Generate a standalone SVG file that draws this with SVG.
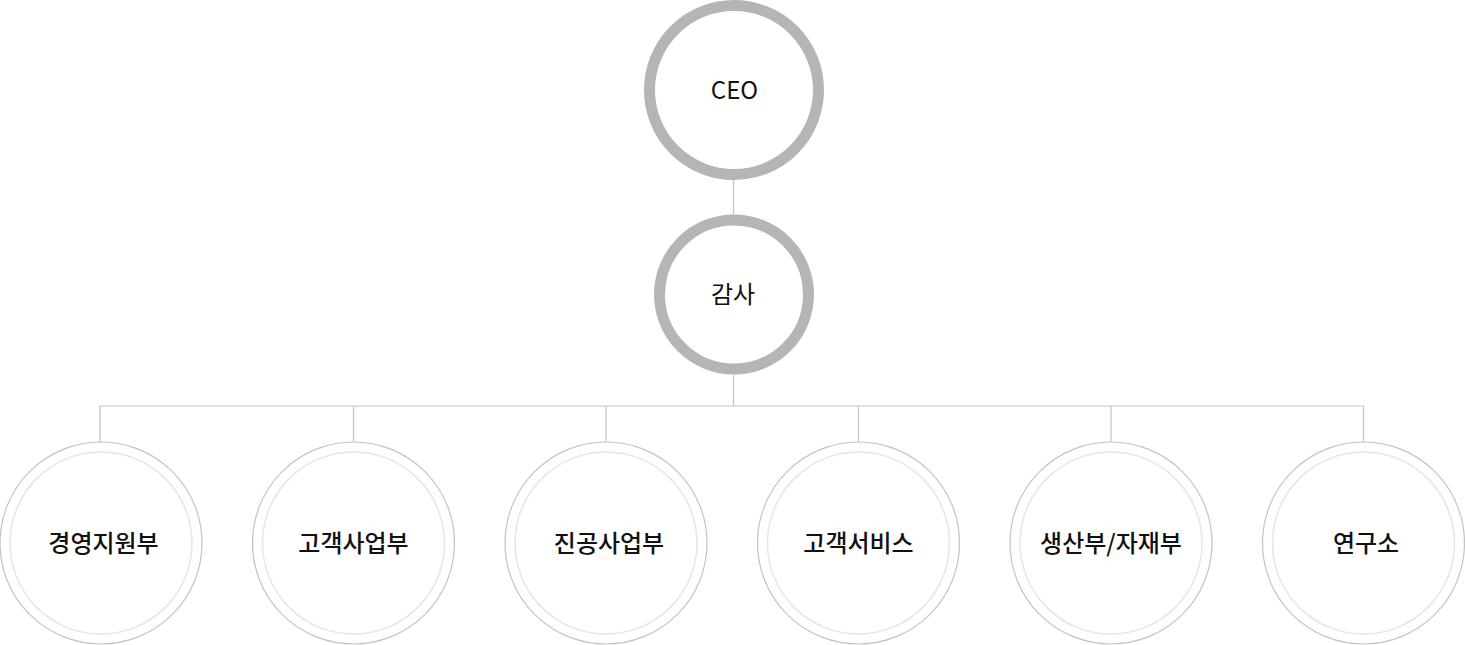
<svg xmlns="http://www.w3.org/2000/svg" width="1465" height="645" viewBox="0 0 1465 645">
<style>
.bg{fill:#ffffff}
.top{fill:#ffffff;stroke:#b5b5b5;stroke-width:11}
.outer{fill:#ffffff;stroke:#c4c4c4;stroke-width:1.2}
.inner{fill:none;stroke:#e6e6e6;stroke-width:1.5}
.conn{fill:none;stroke:#c4c4c4;stroke-width:1.2}
.lbl{font-family:"Noto Sans CJK KR","Noto Sans",sans-serif;font-size:24px;font-weight:500;fill:#111111;text-anchor:middle}
.en{font-size:24px;font-weight:400}
.mid{font-weight:400}
</style>
<rect class="bg" x="0" y="0" width="1465" height="645"/>
<g id="connectors">
<path class="conn" d="M733.5,179 V214"/>
<path class="conn" d="M733.5,375 V406"/>
<path class="conn" d="M100,406 H1363.5"/>
<path class="conn" d="M100,406 V442"/>
<path class="conn" d="M353.5,406 V442"/>
<path class="conn" d="M606,406 V442"/>
<path class="conn" d="M858.5,406 V442"/>
<path class="conn" d="M1111,406 V442"/>
<path class="conn" d="M1363.5,406 V442"/>
</g>
<g id="ceo">
<circle class="top" cx="734" cy="90" r="84.5"/>
<text class="lbl en" x="734.5" y="99">CEO</text>
</g>
<g id="audit">
<circle class="top" cx="734" cy="294.5" r="74.5"/>
<text class="lbl mid" x="733" y="303">감사</text>
</g>
<g id="dept1">
<circle class="outer" cx="101" cy="543" r="101"/>
<circle class="inner" cx="101" cy="543" r="91"/>
<text class="lbl" x="103.5" y="552">경영지원부</text>
</g>
<g id="dept2">
<circle class="outer" cx="353.5" cy="543" r="101"/>
<circle class="inner" cx="353.5" cy="543" r="91"/>
<text class="lbl" x="353.5" y="552">고객사업부</text>
</g>
<g id="dept3">
<circle class="outer" cx="606" cy="543" r="101"/>
<circle class="inner" cx="606" cy="543" r="91"/>
<text class="lbl" x="609" y="552">진공사업부</text>
</g>
<g id="dept4">
<circle class="outer" cx="858.5" cy="543" r="101"/>
<circle class="inner" cx="858.5" cy="543" r="91"/>
<text class="lbl" x="858.5" y="552">고객서비스</text>
</g>
<g id="dept5">
<circle class="outer" cx="1111" cy="543" r="101"/>
<circle class="inner" cx="1111" cy="543" r="91"/>
<text class="lbl" x="1111" y="552">생산부/자재부</text>
</g>
<g id="dept6">
<circle class="outer" cx="1363.5" cy="543" r="101"/>
<circle class="inner" cx="1363.5" cy="543" r="91"/>
<text class="lbl" x="1366" y="552">연구소</text>
</g>
</svg>
